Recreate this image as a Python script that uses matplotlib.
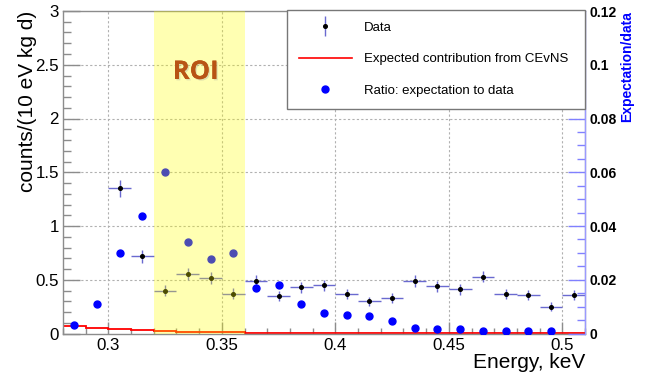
import numpy as np
import matplotlib
matplotlib.use("Agg")
import matplotlib.pyplot as plt
from matplotlib.lines import Line2D
from matplotlib.ticker import MultipleLocator
import matplotlib.patheffects as pe

plt.rcParams['font.family'] = ['Liberation Sans', 'DejaVu Sans']

# ---- data ----
data_energy = [0.305, 0.315, 0.325, 0.335, 0.345, 0.355, 0.365, 0.375, 0.385, 0.395,
               0.405, 0.415, 0.425, 0.435, 0.445, 0.455, 0.465, 0.475, 0.485, 0.495, 0.505]
data_counts = [1.35, 0.72, 0.40, 0.55, 0.52, 0.37, 0.49, 0.35, 0.43, 0.45,
               0.37, 0.30, 0.33, 0.49, 0.44, 0.41, 0.53, 0.37, 0.36, 0.25, 0.36]
data_err = [0.08, 0.06, 0.05, 0.055, 0.055, 0.05, 0.055, 0.045, 0.05, 0.05,
            0.048, 0.043, 0.045, 0.055, 0.05, 0.05, 0.055, 0.048, 0.047, 0.04, 0.047]
bin_half_width = 0.005

cevns_edges = [0.28, 0.29, 0.30, 0.31, 0.32, 0.33, 0.34, 0.35, 0.36, 0.37, 0.38, 0.39,
               0.40, 0.41, 0.42, 0.43, 0.44, 0.45, 0.46, 0.47, 0.48, 0.49, 0.50, 0.51]
cevns_counts = [0.071, 0.052, 0.040, 0.028, 0.021, 0.018, 0.015, 0.012, 0.008, 0.006, 0.004,
                0.002, 0.002, 0.002, 0.002, 0.002, 0.001, 0.001, 0.001, 0.001, 0.001, 0.001, 0.001]

ratio_energy = [0.285, 0.295, 0.305, 0.315, 0.325, 0.335, 0.345, 0.355, 0.365, 0.375, 0.385,
                0.395, 0.405, 0.415, 0.425, 0.435, 0.445, 0.455, 0.465, 0.475, 0.485, 0.495]
ratio_values = [0.0031, 0.0108, 0.0298, 0.0438, 0.0601, 0.0340, 0.0278, 0.0298, 0.0170, 0.0179,
                0.0110, 0.0078, 0.0069, 0.0065, 0.0045, 0.0021, 0.0017, 0.0015, 0.0010,
                0.0009, 0.0008, 0.0008]

roi_range = [0.32, 0.36]

# ---- figure ----
W, H = 647, 381
fig = plt.figure(figsize=(W / 100, H / 100), dpi=100)
L, R, T, B = 63, 585, 11, 333.5
ax = fig.add_axes([L / W, 1 - B / H, (R - L) / W, (B - T) / H])
ax2 = ax.twinx()

gray = '#8c8c8c'
ax.set_xlim(0.28, 0.51)
ax.set_ylim(0, 3)
ax2.set_ylim(0, 0.12)

# grid
for xv in [0.30, 0.35, 0.40, 0.45, 0.50]:
    ax.axvline(xv, color='#b0b0b0', lw=0.8, ls=(0, (2, 2)), zorder=0.5)
for yv in [0.5, 1.0, 1.5, 2.0, 2.5]:
    ax.axhline(yv, color='#b0b0b0', lw=0.8, ls=(0, (2, 2)), zorder=0.5)

# CEvNS histogram
ax.stairs(cevns_counts, cevns_edges, color='red', lw=1.3, zorder=2)

# data
ax.errorbar(data_energy, data_counts, yerr=data_err, xerr=bin_half_width,
             fmt='o', ms=2.6, mfc='black', mec='black', ecolor='#6a6ad0',
             elinewidth=1.0, capsize=0, zorder=3)

# ratio
ax2.plot(ratio_energy, ratio_values, 'o', color='#0000ff', ms=5, zorder=3)

# ROI band (transparent overlay)
ax2.axvspan(roi_range[0], roi_range[1], color='#ffff00', alpha=0.3, lw=0, zorder=4)
ax2.text(0.3385, 0.0975, 'ROI', color='#b85414', fontsize=18.5, fontweight='bold',
         family=['Open Sans', 'DejaVu Sans'],
         ha='center', va='center', zorder=5,
         path_effects=[pe.withSimplePatchShadow(offset=(1, -1), shadow_rgbFace='#999999', alpha=0.3),
                       pe.Normal()])

# left axis styling
ax.xaxis.set_major_locator(MultipleLocator(0.05))
ax.xaxis.set_minor_locator(MultipleLocator(0.01))
ax.yaxis.set_major_locator(MultipleLocator(0.5))
ax.yaxis.set_minor_locator(MultipleLocator(0.1))
ax.tick_params(axis='both', which='both', direction='in', color=gray, labelsize=12.2)
ax.tick_params(axis='y', which='major', length=12, width=1.0, pad=3)
ax.tick_params(axis='y', which='minor', length=6, width=1.0)
ax.tick_params(axis='x', which='major', length=9, width=1.0, pad=3)
ax.tick_params(axis='x', which='minor', length=4.5, width=1.0)
ax.tick_params(right=False, top=False, which='both')
ax.set_xticks([0.30, 0.35, 0.40, 0.45, 0.50])
ax.set_xticklabels(['0.3', '0.35', '0.4', '0.45', '0.5'])
ax.set_yticks([0, 0.5, 1, 1.5, 2, 2.5, 3])
ax.set_yticklabels(['0', '0.5', '1', '1.5', '2', '2.5', '3'])
for s in ['left', 'bottom', 'top']:
    ax.spines[s].set_color(gray)
    ax.spines[s].set_linewidth(1.0)
ax.set_xlabel('Energy, keV', fontsize=15, loc='right', labelpad=0)
ax.set_ylabel('counts/(10 eV kg d)', fontsize=15, loc='top', labelpad=-1)

# right axis styling
blue_tick = '#8080ff'
ax2.yaxis.set_major_locator(MultipleLocator(0.02))
ax2.yaxis.set_minor_locator(MultipleLocator(0.005))
ax2.tick_params(axis='y', which='both', direction='in', color=blue_tick, labelsize=10)
ax2.tick_params(axis='y', which='major', length=12, width=1.0, pad=3)
ax2.tick_params(axis='y', which='minor', length=6, width=1.0)
ax2.set_yticks([0, 0.02, 0.04, 0.06, 0.08, 0.1, 0.12])
ax2.set_yticklabels(['0', '0.02', '0.04', '0.06', '0.08', '0.1', '0.12'], fontweight='bold')
for s in ['left', 'bottom', 'top']:
    ax2.spines[s].set_visible(False)
ax2.spines['right'].set_color('#9a9aff')
ax2.spines['right'].set_linewidth(1.0)
ax2.set_ylabel('Expectation/data', fontsize=10, fontweight='bold', color='#0000ff',
               loc='top', labelpad=3)

# legend
h_data = (Line2D([], [], color='#6a6ad0', marker='|', ms=14, ls='none', mew=1.0),
          Line2D([], [], color='black', marker='o', ms=2.6, ls='none'))
h_cevns = Line2D([], [], color='red', lw=1.2)
h_ratio = Line2D([], [], color='#0000ff', marker='o', ms=5, ls='none')
leg = ax2.legend([h_data, h_cevns, h_ratio],
                 ['Data', 'Expected contribution from CEvNS', 'Ratio: expectation to data'],
                 loc='upper left', bbox_to_anchor=((287 - L) / (R - L), 1 + (T - 10) / (B - T),
                                                   (R - 287) / (R - L), 0.0),
                 mode='expand', fontsize=9.5, frameon=True, fancybox=False,
                 edgecolor='#777777', framealpha=1.0, borderaxespad=0,
                 handlelength=4.0, handletextpad=0.9, labelspacing=1.45, borderpad=0.9)
leg.get_frame().set_linewidth(1.0)
leg.set_zorder(10)

fig.savefig('out.png', dpi=100)
